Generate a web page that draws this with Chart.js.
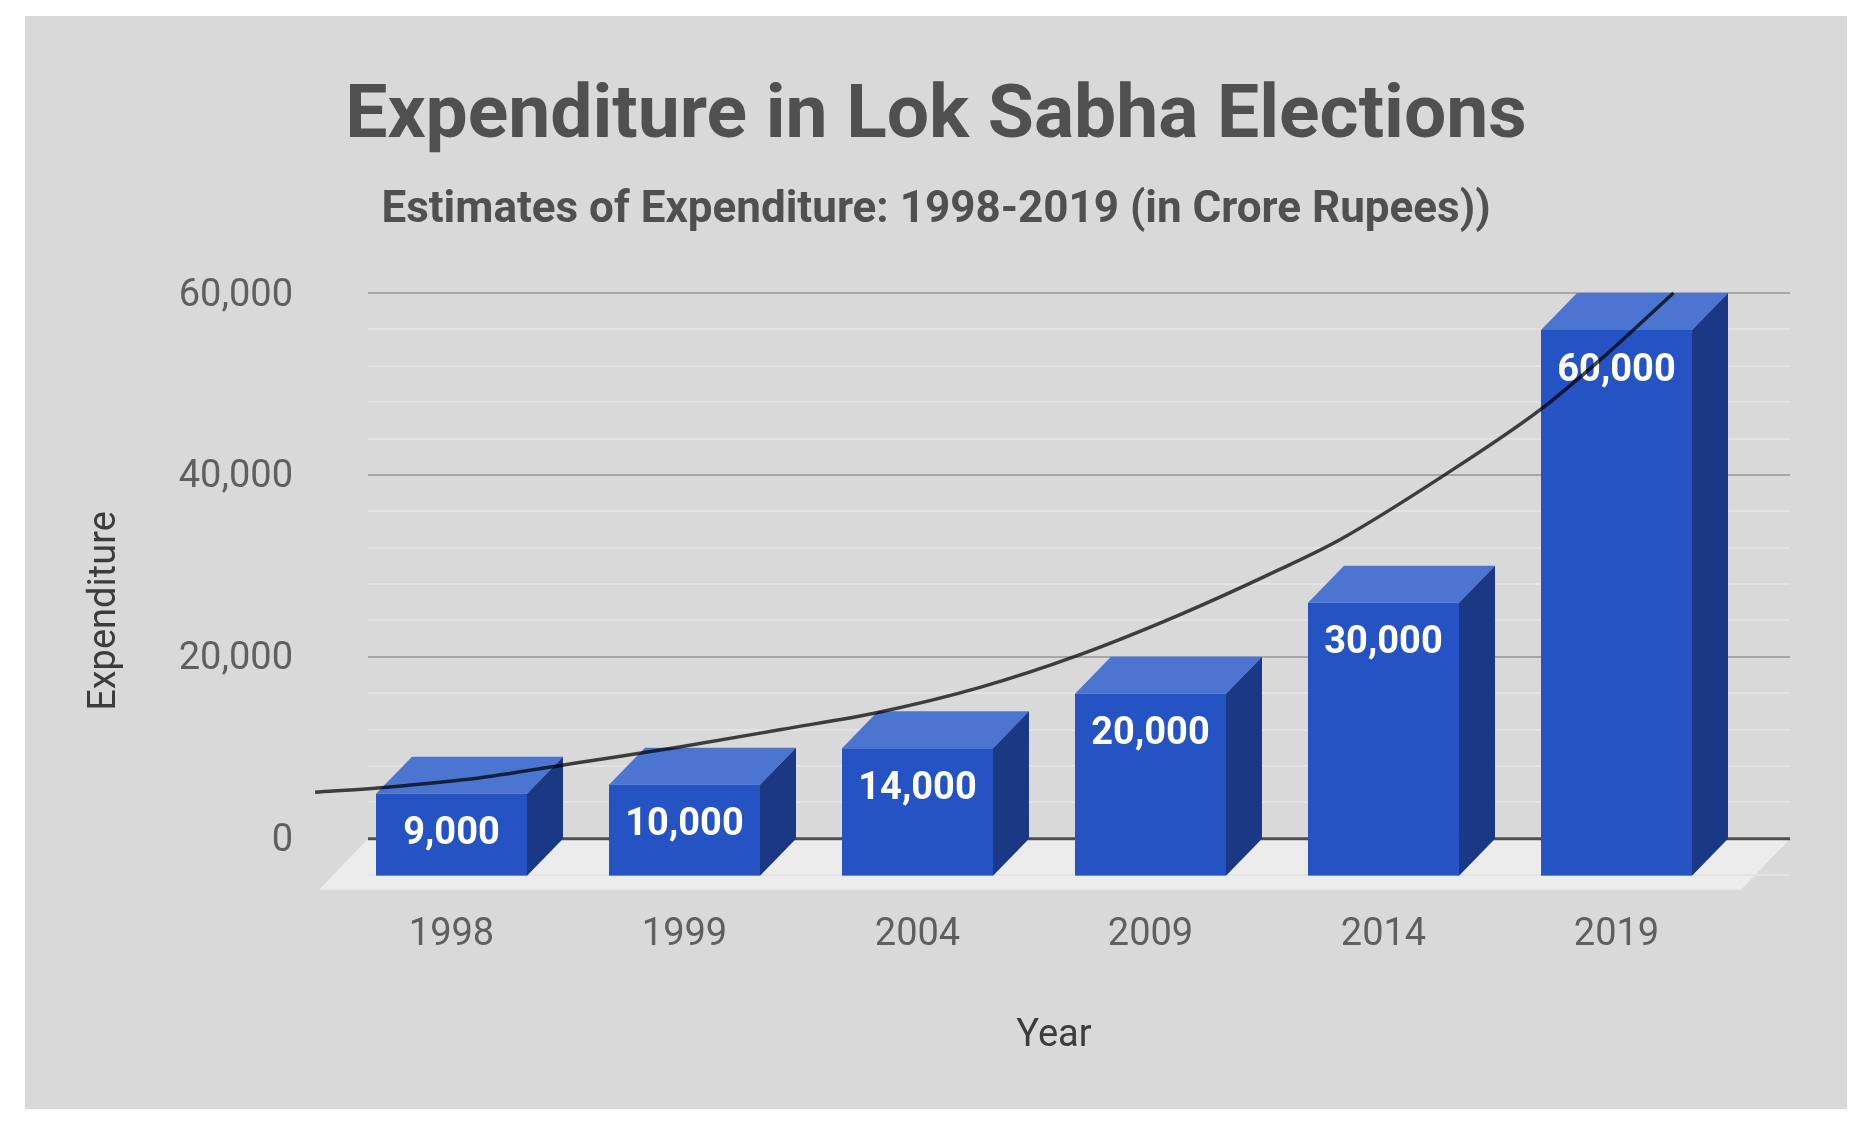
<!DOCTYPE html>
<html>
<head>
<meta charset="utf-8">
<script src="https://cdn.jsdelivr.net/npm/chart.js@4.4.1/dist/chart.umd.min.js"></script>
<style>
  html, body { margin: 0; padding: 0; background: #ffffff; width: 1868px; height: 1132px; overflow: hidden; }
  #frame { position: absolute; left: 25px; top: 16px; width: 1822px; height: 1093px; background: #d9d9d9; }
  canvas { display: block; }
</style>
</head>
<body>
<div id="frame"><canvas id="c" width="1822" height="1093"></canvas></div>
<script>
// ---- data ----
const years = ['1998', '1999', '2004', '2009', '2014', '2019'];
const expenditure = [9000, 10000, 14000, 20000, 30000, 60000];
// exponential trendline (x = category index position)
const trendX = [-0.74, -0.46, -0.03, 0.40, 0.83, 1.26, 1.68, 2.11, 2.54, 2.97, 3.40, 3.66, 4.09, 4.52, 4.80, 5.09];
const trendY = [5100, 5600, 6700, 8400, 10100, 12000, 13900, 16600, 20200, 24600, 29600, 32900, 39700, 47200, 53200, 60000];
const yMajorTicks = [0, 20000, 40000, 60000];
const titleText = 'Expenditure in Lok Sabha Elections';
const subtitleText = 'Estimates of Expenditure: 1998-2019 (in Crore Rupees))';
const xTitleText = 'Year';
const yTitleText = 'Expenditure';

// ---- styles ----
const FRONT = '#2653c4', TOP = '#4b75d0', SIDE = '#1b3884';
const DX = -36, DY = 37;           // 3D depth offset of bar front faces
const FLOOR_DX = -49, FLOOR_DY = 51;
const fmt = v => v.toLocaleString('en-US');

const threeD = {
  id: 'threeD',
  beforeDatasetsDraw(chart) {
    const ctx = chart.ctx, ca = chart.chartArea, ys = chart.scales.y;
    const gl = ca.left - 3, gr = ca.right + 21;
    const zero = ys.getPixelForValue(0);
    ctx.save();
    // floor
    ctx.fillStyle = '#ececec';
    ctx.beginPath();
    ctx.moveTo(gl, zero);
    ctx.lineTo(gr, zero);
    ctx.lineTo(gr + FLOOR_DX, zero + FLOOR_DY);
    ctx.lineTo(gl + FLOOR_DX, zero + FLOOR_DY);
    ctx.closePath();
    ctx.fill();
    // grid lines
    ys.ticks.forEach(t => {
      if (t.value === 0) return;
      const p = Math.round(ys.getPixelForValue(t.value));
      const major = yMajorTicks.includes(t.value);
      ctx.strokeStyle = major ? '#a6a6a6' : '#e3e3e3';
      ctx.lineWidth = 2;
      ctx.beginPath(); ctx.moveTo(gl, p); ctx.lineTo(gr, p); ctx.stroke();
    });
    ctx.strokeStyle = '#4f4f4f';
    ctx.lineWidth = 3;
    ctx.beginPath(); ctx.moveTo(gl, zero); ctx.lineTo(gr, zero); ctx.stroke();
    ctx.restore();
  },
  afterDatasetDraw(chart, args) {
    if (args.index !== 0) return;
    const ctx = chart.ctx;
    const meta = chart.getDatasetMeta(0);
    ctx.save();
    meta.data.forEach((bar, i) => {
      const { x, y, base, width } = bar.getProps(['x', 'y', 'base', 'width'], true);
      const l = x - width / 2, r = x + width / 2;
      // top face
      ctx.fillStyle = TOP;
      ctx.beginPath();
      ctx.moveTo(l + DX, y + DY); ctx.lineTo(r + DX, y + DY); ctx.lineTo(r, y); ctx.lineTo(l, y);
      ctx.closePath(); ctx.fill();
      // side face
      ctx.fillStyle = SIDE;
      ctx.beginPath();
      ctx.moveTo(r + DX, y + DY); ctx.lineTo(r, y); ctx.lineTo(r, base); ctx.lineTo(r + DX, base + DY);
      ctx.closePath(); ctx.fill();
      // front face
      ctx.fillStyle = FRONT;
      ctx.fillRect(l + DX, y + DY, width, base - y);
      // value label
      ctx.fillStyle = '#ffffff';
      ctx.font = 'bold 38px Roboto';
      ctx.textAlign = 'center';
      ctx.textBaseline = 'middle';
      ctx.fillText(fmt(expenditure[i]), x + DX, y + DY + 41);
    });
    ctx.restore();
  },
  afterDraw(chart) {
    const ctx = chart.ctx, ca = chart.chartArea;
    ctx.save();
    ctx.fillStyle = '#3c3c3c';
    ctx.font = '38px Roboto';
    ctx.textAlign = 'center';
    ctx.textBaseline = 'middle';
    ctx.fillText(xTitleText, (ca.left + ca.right) / 2 - 16, ca.bottom + 161);
    ctx.translate(ca.left - 266, (ca.top + ca.bottom) / 2 + 27);
    ctx.rotate(-Math.PI / 2);
    ctx.fillText(yTitleText, 0, 0);
    ctx.restore();
  }
};

function build() {
  new Chart(document.getElementById('c'), {
    type: 'bar',
    data: {
      labels: years,
      datasets: [
        {
          type: 'bar',
          label: 'Expenditure',
          data: expenditure,
          backgroundColor: 'rgba(0,0,0,0)',
          borderWidth: 0,
          grouped: false,
          barPercentage: 0.648,
          categoryPercentage: 1,
          xAxisID: 'x',
          yAxisID: 'y',
          order: 2
        },
        {
          type: 'line',
          label: 'Trend',
          data: trendX.map((x, i) => ({ x: x, y: trendY[i] })),
          borderColor: 'rgba(0,0,0,0.72)',
          borderWidth: 3.5,
          pointRadius: 0,
          cubicInterpolationMode: 'monotone',
          fill: false,
          clip: false,
          xAxisID: 'xt',
          yAxisID: 'y',
          order: 1
        }
      ]
    },
    options: {
      responsive: false,
      devicePixelRatio: 1,
      animation: false,
      events: [],
      layout: { padding: { left: 78, right: 78, top: 0, bottom: 0 } },
      plugins: {
        legend: { display: false },
        tooltip: { enabled: false },
        title: {
          display: true,
          text: titleText,
          color: '#505050',
          font: { family: 'Roboto', size: 75, weight: 'bold', lineHeight: 1 },
          padding: { top: 65, bottom: 0 }
        },
        subtitle: {
          display: true,
          text: subtitleText,
          color: '#505050',
          font: { family: 'Roboto', size: 44, weight: 'bold', lineHeight: 1 },
          padding: { top: 33, bottom: 60 }
        }
      },
      scales: {
        x: {
          type: 'category',
          position: 'bottom',
          offset: true,
          grid: { display: false, drawTicks: false },
          border: { display: false },
          ticks: { color: '#5f5f5f', font: { family: 'Roboto', size: 38 }, padding: 38, labelOffset: DX, maxRotation: 0, autoSkip: false },
          afterFit(s) { s.height = 234; }
        },
        xt: {
          type: 'linear',
          display: false,
          offset: false,
          grid: { offset: false },
          min: -0.5,
          max: 5.5
        },
        y: {
          type: 'linear',
          position: 'left',
          min: -4000,
          max: 60000,
          grid: { display: false, drawTicks: false },
          border: { display: false },
          ticks: {
            stepSize: 4000,
            autoSkip: false,
            color: '#5f5f5f',
            font: { family: 'Roboto', size: 38 },
            padding: 78,
            labelOffset: 3,
            callback: v => (yMajorTicks.includes(v) ? fmt(v) : '')
          },
          afterFit(s) { s.width = 268; }
        }
      }
    },
    plugins: [threeD]
  });
}

Promise.all([
  document.fonts.load('38px Roboto'),
  document.fonts.load('bold 38px Roboto'),
  document.fonts.load('bold 75px Roboto')
]).then(build, build);
</script>
</body>
</html>
